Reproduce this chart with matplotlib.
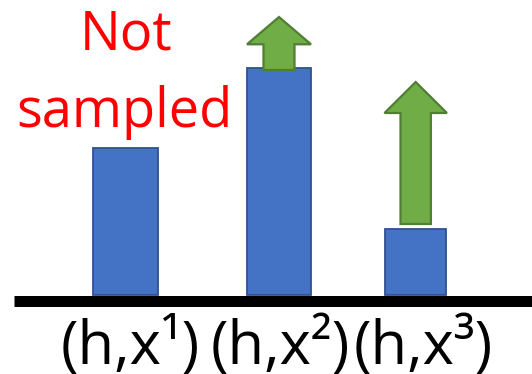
import matplotlib
matplotlib.use("Agg")
import matplotlib.pyplot as plt

# ---- data ----
categories = ["(h,x¹)", "(h,x²)", "(h,x³)"]
values = [147, 227, 66]          # bar heights
arrow_tips = [None, 278, 213]    # where the green "increase" arrows point to
note_lines = ["Not", "sampled"]

# ---- layout / style ----
W, H, DPI = 532, 374, 100
bar_x = [125.3, 279.0, 415.7]
bar_w = [65, 64, 61]
label_x = [130, 280, 423]
note_x = [126, 124]
note_y = [245, 168]
arrow_start = [None, 225, 71]
shaft_w = [None, 31, 30.4]
head_w = [None, 64, 62.4]
head_len = [None, 27.3, 31]

blue, blue_edge = "#4472C4", "#2F528F"
green, green_edge = "#70AD47", "#507E32"

fig = plt.figure(figsize=(W / DPI, H / DPI), dpi=DPI)
ax = fig.add_axes([0, 0, 1, 1])
ax.set_xlim(0, W)
ax.set_ylim(-79, 295)
ax.axis("off")

ax.bar(bar_x, values, width=bar_w, color=blue, edgecolor=blue_edge, linewidth=1.3, zorder=2)

for i, tip in enumerate(arrow_tips):
    if tip is None:
        continue
    y0 = arrow_start[i]
    ax.arrow(bar_x[i], y0, 0, tip - y0, width=shaft_w[i], head_width=head_w[i],
             head_length=head_len[i], length_includes_head=True,
             facecolor=green, edgecolor=green_edge, linewidth=1.6, zorder=3)

# baseline
ax.plot([14, W], [-5.5, -5.5], color="black", linewidth=11 * 72 / DPI,
        solid_capstyle="butt", zorder=4)

for x, lab in zip(label_x, categories):
    ax.text(x, -69, lab, ha="center", va="baseline", fontsize=43,
            family=["Open Sans", "DejaVu Sans"], color="black")

for x, y, line in zip(note_x, note_y, note_lines):
    ax.text(x, y, line, ha="center", va="baseline", fontsize=39, color="#FF0000",
            family=["Open Sans", "DejaVu Sans"])

fig.savefig("out.png", dpi=DPI)
